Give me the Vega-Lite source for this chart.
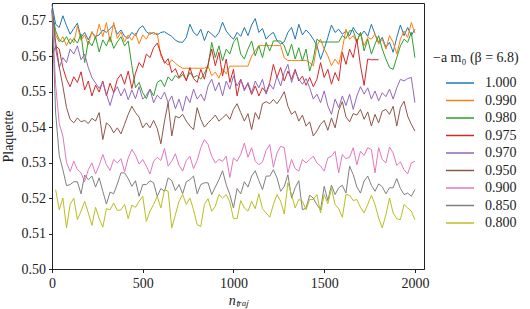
{
  "$schema": "https://vega.github.io/schema/vega-lite/v6.json",
  "width": 372,
  "height": 266,
  "autosize": {"type": "none"},
  "padding": {"left": 52, "top": 3, "right": 106, "bottom": 40},
  "background": "white",
  "config": {
    "font": "Liberation Serif",
    "view": {"stroke": "#222", "strokeWidth": 1},
    "axis": {"domainColor": "#222", "tickColor": "#222", "labelColor": "#222", "titleColor": "#222", "labelFontSize": 14, "titleFontSize": 14, "titleFontWeight": "normal", "grid": false, "tickSize": 3.5, "labelFont": "Liberation Serif", "titleFont": "Liberation Serif"},
    "legend": {"labelFont": "Liberation Serif", "titleFont": "Liberation Serif"}
  },
  "data": {"name": "traj"},
  "mark": {"type": "line", "strokeWidth": 1, "interpolate": "linear"},
  "encoding": {
    "x": {"field": "x", "type": "quantitative", "scale": {"domain": [0, 2050], "nice": false, "zero": false},
      "axis": {"values": [0, 500, 1000, 1500, 2000], "format": "d", "title": "nₜᵣₐⱼ", "titleFontStyle": "italic", "labelPadding": 4, "titlePadding": 3, "labelFlush": false}},
    "y": {"field": "y", "type": "quantitative", "scale": {"domain": [0.5, 0.575], "nice": false, "zero": false},
      "axis": {"values": [0.5, 0.51, 0.52, 0.53, 0.54, 0.55, 0.56, 0.57], "format": ".2f", "title": "Plaquette", "labelPadding": 3, "titlePadding": 6, "labelFlush": false}},
    "color": {"field": "s", "type": "nominal", "sort": null,
      "scale": {"domain": ["1.000", "0.990", "0.980", "0.975", "0.970", "0.950", "0.900", "0.850", "0.800"],
        "range": ["#1f77b4", "#ff7f0e", "#2ca02c", "#d62728", "#9467bd", "#8c564b", "#e377c2", "#7f7f7f", "#bcbd22"]},
      "legend": {"title": "−a m₀ (β = 6.8)", "orient": "none", "legendX": 381, "legendY": 48, "titleFontSize": 14, "titleFontWeight": "normal", "titleColor": "#222", "labelColor": "#222", "labelFontSize": 14, "symbolType": "M-2,0H2", "symbolSize": 196, "symbolStrokeWidth": 1.5, "symbolOffset": 19, "labelOffset": 17, "rowPadding": 2.5, "titlePadding": 10, "padding": 0}}
  },
  "datasets": {"traj": [
{"s":"1.000","x":0,"y":0.5745},{"s":"1.000","x":20,"y":0.5690},{"s":"1.000","x":40,"y":0.5681},{"s":"1.000","x":60,"y":0.5714},{"s":"1.000","x":80,"y":0.5686},{"s":"1.000","x":100,"y":0.5662},{"s":"1.000","x":120,"y":0.5678},{"s":"1.000","x":140,"y":0.5693},{"s":"1.000","x":160,"y":0.5653},{"s":"1.000","x":180,"y":0.5667},
{"s":"1.000","x":200,"y":0.5646},{"s":"1.000","x":220,"y":0.5667},{"s":"1.000","x":240,"y":0.5656},{"s":"1.000","x":260,"y":0.5660},{"s":"1.000","x":280,"y":0.5674},{"s":"1.000","x":300,"y":0.5667},{"s":"1.000","x":320,"y":0.5678},{"s":"1.000","x":340,"y":0.5688},{"s":"1.000","x":360,"y":0.5662},{"s":"1.000","x":380,"y":0.5674},
{"s":"1.000","x":400,"y":0.5656},{"s":"1.000","x":420,"y":0.5650},{"s":"1.000","x":440,"y":0.5667},{"s":"1.000","x":460,"y":0.5658},{"s":"1.000","x":480,"y":0.5678},{"s":"1.000","x":500,"y":0.5686},{"s":"1.000","x":520,"y":0.5669},{"s":"1.000","x":540,"y":0.5662},{"s":"1.000","x":560,"y":0.5667},{"s":"1.000","x":580,"y":0.5660},
{"s":"1.000","x":600,"y":0.5667},{"s":"1.000","x":620,"y":0.5669},{"s":"1.000","x":640,"y":0.5662},{"s":"1.000","x":660,"y":0.5656},{"s":"1.000","x":680,"y":0.5645},{"s":"1.000","x":700,"y":0.5640},{"s":"1.000","x":720,"y":0.5639},{"s":"1.000","x":740,"y":0.5653},{"s":"1.000","x":760,"y":0.5690},{"s":"1.000","x":780,"y":0.5667},
{"s":"1.000","x":800,"y":0.5658},{"s":"1.000","x":820,"y":0.5676},{"s":"1.000","x":840,"y":0.5644},{"s":"1.000","x":860,"y":0.5671},{"s":"1.000","x":880,"y":0.5662},{"s":"1.000","x":900,"y":0.5653},{"s":"1.000","x":920,"y":0.5667},{"s":"1.000","x":940,"y":0.5696},{"s":"1.000","x":960,"y":0.5671},{"s":"1.000","x":980,"y":0.5658},
{"s":"1.000","x":1000,"y":0.5648},{"s":"1.000","x":1020,"y":0.5667},{"s":"1.000","x":1040,"y":0.5656},{"s":"1.000","x":1060,"y":0.5681},{"s":"1.000","x":1080,"y":0.5658},{"s":"1.000","x":1100,"y":0.5688},{"s":"1.000","x":1120,"y":0.5706},{"s":"1.000","x":1140,"y":0.5667},{"s":"1.000","x":1160,"y":0.5678},{"s":"1.000","x":1180,"y":0.5648},
{"s":"1.000","x":1200,"y":0.5660},{"s":"1.000","x":1220,"y":0.5667},{"s":"1.000","x":1240,"y":0.5644},{"s":"1.000","x":1260,"y":0.5634},{"s":"1.000","x":1280,"y":0.5641},{"s":"1.000","x":1300,"y":0.5667},{"s":"1.000","x":1320,"y":0.5681},{"s":"1.000","x":1340,"y":0.5648},{"s":"1.000","x":1360,"y":0.5690},{"s":"1.000","x":1380,"y":0.5660},
{"s":"1.000","x":1400,"y":0.5674},{"s":"1.000","x":1420,"y":0.5663},{"s":"1.000","x":1440,"y":0.5648},{"s":"1.000","x":1460,"y":0.5630},{"s":"1.000","x":1480,"y":0.5591},{"s":"1.000","x":1500,"y":0.5620},{"s":"1.000","x":1520,"y":0.5653},{"s":"1.000","x":1540,"y":0.5688},{"s":"1.000","x":1560,"y":0.5667},{"s":"1.000","x":1580,"y":0.5676},
{"s":"1.000","x":1600,"y":0.5662},{"s":"1.000","x":1620,"y":0.5671},{"s":"1.000","x":1640,"y":0.5658},{"s":"1.000","x":1660,"y":0.5681},{"s":"1.000","x":1680,"y":0.5665},{"s":"1.000","x":1700,"y":0.5658},{"s":"1.000","x":1720,"y":0.5671},{"s":"1.000","x":1740,"y":0.5656},{"s":"1.000","x":1760,"y":0.5690},{"s":"1.000","x":1780,"y":0.5662},
{"s":"1.000","x":1800,"y":0.5639},{"s":"1.000","x":1820,"y":0.5653},{"s":"1.000","x":1840,"y":0.5625},{"s":"1.000","x":1860,"y":0.5639},{"s":"1.000","x":1880,"y":0.5611},{"s":"1.000","x":1900,"y":0.5653},{"s":"1.000","x":1920,"y":0.5688},{"s":"1.000","x":1940,"y":0.5658},{"s":"1.000","x":1960,"y":0.5681},{"s":"1.000","x":1980,"y":0.5658},{"s":"1.000","x":2000,"y":0.5676},
{"s":"0.990","x":0,"y":0.5725},{"s":"0.990","x":20,"y":0.5660},{"s":"0.990","x":40,"y":0.5640},{"s":"0.990","x":60,"y":0.5655},{"s":"0.990","x":80,"y":0.5630},{"s":"0.990","x":100,"y":0.5650},{"s":"0.990","x":120,"y":0.5638},{"s":"0.990","x":140,"y":0.5685},{"s":"0.990","x":160,"y":0.5645},{"s":"0.990","x":180,"y":0.5660},
{"s":"0.990","x":200,"y":0.5632},{"s":"0.990","x":220,"y":0.5670},{"s":"0.990","x":240,"y":0.5648},{"s":"0.990","x":260,"y":0.5690},{"s":"0.990","x":280,"y":0.5655},{"s":"0.990","x":300,"y":0.5695},{"s":"0.990","x":320,"y":0.5640},{"s":"0.990","x":340,"y":0.5695},{"s":"0.990","x":360,"y":0.5650},{"s":"0.990","x":380,"y":0.5668},
{"s":"0.990","x":400,"y":0.5640},{"s":"0.990","x":420,"y":0.5660},{"s":"0.990","x":440,"y":0.5645},{"s":"0.990","x":460,"y":0.5665},{"s":"0.990","x":480,"y":0.5635},{"s":"0.990","x":500,"y":0.5660},{"s":"0.990","x":520,"y":0.5648},{"s":"0.990","x":540,"y":0.5668},{"s":"0.990","x":560,"y":0.5662},{"s":"0.990","x":580,"y":0.5665},
{"s":"0.990","x":600,"y":0.5600},{"s":"0.990","x":620,"y":0.5585},{"s":"0.990","x":640,"y":0.5575},{"s":"0.990","x":660,"y":0.5590},{"s":"0.990","x":680,"y":0.5580},{"s":"0.990","x":700,"y":0.5572},{"s":"0.990","x":720,"y":0.5566},{"s":"0.990","x":740,"y":0.5566},{"s":"0.990","x":760,"y":0.5566},{"s":"0.990","x":780,"y":0.5566},
{"s":"0.990","x":800,"y":0.5566},{"s":"0.990","x":820,"y":0.5566},{"s":"0.990","x":840,"y":0.5566},{"s":"0.990","x":860,"y":0.5572},{"s":"0.990","x":880,"y":0.5545},{"s":"0.990","x":900,"y":0.5555},{"s":"0.990","x":920,"y":0.5538},{"s":"0.990","x":940,"y":0.5565},{"s":"0.990","x":960,"y":0.5550},{"s":"0.990","x":980,"y":0.5572},
{"s":"0.990","x":1000,"y":0.5572},{"s":"0.990","x":1020,"y":0.5572},{"s":"0.990","x":1040,"y":0.5572},{"s":"0.990","x":1060,"y":0.5572},{"s":"0.990","x":1080,"y":0.5572},{"s":"0.990","x":1100,"y":0.5600},{"s":"0.990","x":1120,"y":0.5615},{"s":"0.990","x":1140,"y":0.5630},{"s":"0.990","x":1160,"y":0.5630},{"s":"0.990","x":1180,"y":0.5630},
{"s":"0.990","x":1200,"y":0.5630},{"s":"0.990","x":1220,"y":0.5630},{"s":"0.990","x":1240,"y":0.5630},{"s":"0.990","x":1260,"y":0.5630},{"s":"0.990","x":1280,"y":0.5595},{"s":"0.990","x":1300,"y":0.5588},{"s":"0.990","x":1320,"y":0.5588},{"s":"0.990","x":1340,"y":0.5588},{"s":"0.990","x":1360,"y":0.5588},{"s":"0.990","x":1380,"y":0.5588},
{"s":"0.990","x":1400,"y":0.5588},{"s":"0.990","x":1420,"y":0.5582},{"s":"0.990","x":1440,"y":0.5573},{"s":"0.990","x":1460,"y":0.5629},{"s":"0.990","x":1480,"y":0.5648},{"s":"0.990","x":1500,"y":0.5620},{"s":"0.990","x":1520,"y":0.5601},{"s":"0.990","x":1540,"y":0.5573},{"s":"0.990","x":1560,"y":0.5592},{"s":"0.990","x":1580,"y":0.5577},
{"s":"0.990","x":1600,"y":0.5620},{"s":"0.990","x":1620,"y":0.5676},{"s":"0.990","x":1640,"y":0.5648},{"s":"0.990","x":1660,"y":0.5658},{"s":"0.990","x":1680,"y":0.5639},{"s":"0.990","x":1700,"y":0.5667},{"s":"0.990","x":1720,"y":0.5629},{"s":"0.990","x":1740,"y":0.5653},{"s":"0.990","x":1760,"y":0.5648},{"s":"0.990","x":1780,"y":0.5662},
{"s":"0.990","x":1800,"y":0.5634},{"s":"0.990","x":1820,"y":0.5648},{"s":"0.990","x":1840,"y":0.5620},{"s":"0.990","x":1860,"y":0.5658},{"s":"0.990","x":1880,"y":0.5639},{"s":"0.990","x":1900,"y":0.5606},{"s":"0.990","x":1920,"y":0.5648},{"s":"0.990","x":1940,"y":0.5671},{"s":"0.990","x":1960,"y":0.5653},{"s":"0.990","x":1980,"y":0.5695},{"s":"0.990","x":2000,"y":0.5665},
{"s":"0.980","x":0,"y":0.5730},{"s":"0.980","x":20,"y":0.5672},{"s":"0.980","x":40,"y":0.5646},{"s":"0.980","x":60,"y":0.5640},{"s":"0.980","x":80,"y":0.5655},{"s":"0.980","x":100,"y":0.5634},{"s":"0.980","x":120,"y":0.5650},{"s":"0.980","x":140,"y":0.5637},{"s":"0.980","x":160,"y":0.5662},{"s":"0.980","x":180,"y":0.5582},
{"s":"0.980","x":200,"y":0.5643},{"s":"0.980","x":220,"y":0.5629},{"s":"0.980","x":240,"y":0.5655},{"s":"0.980","x":260,"y":0.5612},{"s":"0.980","x":280,"y":0.5646},{"s":"0.980","x":300,"y":0.5629},{"s":"0.980","x":320,"y":0.5655},{"s":"0.980","x":340,"y":0.5622},{"s":"0.980","x":360,"y":0.5640},{"s":"0.980","x":380,"y":0.5655},
{"s":"0.980","x":400,"y":0.5629},{"s":"0.980","x":420,"y":0.5643},{"s":"0.980","x":440,"y":0.5573},{"s":"0.980","x":460,"y":0.5511},{"s":"0.980","x":480,"y":0.5526},{"s":"0.980","x":500,"y":0.5497},{"s":"0.980","x":520,"y":0.5480},{"s":"0.980","x":540,"y":0.5507},{"s":"0.980","x":560,"y":0.5488},{"s":"0.980","x":580,"y":0.5526},
{"s":"0.980","x":600,"y":0.5533},{"s":"0.980","x":620,"y":0.5514},{"s":"0.980","x":640,"y":0.5542},{"s":"0.980","x":660,"y":0.5530},{"s":"0.980","x":680,"y":0.5546},{"s":"0.980","x":700,"y":0.5537},{"s":"0.980","x":720,"y":0.5549},{"s":"0.980","x":740,"y":0.5533},{"s":"0.980","x":760,"y":0.5554},{"s":"0.980","x":780,"y":0.5540},
{"s":"0.980","x":800,"y":0.5546},{"s":"0.980","x":820,"y":0.5535},{"s":"0.980","x":840,"y":0.5552},{"s":"0.980","x":860,"y":0.5573},{"s":"0.980","x":880,"y":0.5639},{"s":"0.980","x":900,"y":0.5596},{"s":"0.980","x":920,"y":0.5629},{"s":"0.980","x":940,"y":0.5587},{"s":"0.980","x":960,"y":0.5620},{"s":"0.980","x":980,"y":0.5606},
{"s":"0.980","x":1000,"y":0.5639},{"s":"0.980","x":1020,"y":0.5653},{"s":"0.980","x":1040,"y":0.5606},{"s":"0.980","x":1060,"y":0.5592},{"s":"0.980","x":1080,"y":0.5620},{"s":"0.980","x":1100,"y":0.5643},{"s":"0.980","x":1120,"y":0.5601},{"s":"0.980","x":1140,"y":0.5629},{"s":"0.980","x":1160,"y":0.5596},{"s":"0.980","x":1180,"y":0.5639},
{"s":"0.980","x":1200,"y":0.5615},{"s":"0.980","x":1220,"y":0.5643},{"s":"0.980","x":1240,"y":0.5643},{"s":"0.980","x":1260,"y":0.5643},{"s":"0.980","x":1280,"y":0.5629},{"s":"0.980","x":1300,"y":0.5601},{"s":"0.980","x":1320,"y":0.5634},{"s":"0.980","x":1340,"y":0.5592},{"s":"0.980","x":1360,"y":0.5624},{"s":"0.980","x":1380,"y":0.5587},
{"s":"0.980","x":1400,"y":0.5620},{"s":"0.980","x":1420,"y":0.5558},{"s":"0.980","x":1440,"y":0.5592},{"s":"0.980","x":1460,"y":0.5648},{"s":"0.980","x":1480,"y":0.5640},{"s":"0.980","x":1500,"y":0.5640},{"s":"0.980","x":1520,"y":0.5640},{"s":"0.980","x":1540,"y":0.5640},{"s":"0.980","x":1560,"y":0.5640},{"s":"0.980","x":1580,"y":0.5640},
{"s":"0.980","x":1600,"y":0.5658},{"s":"0.980","x":1620,"y":0.5650},{"s":"0.980","x":1640,"y":0.5672},{"s":"0.980","x":1660,"y":0.5672},{"s":"0.980","x":1680,"y":0.5640},{"s":"0.980","x":1700,"y":0.5667},{"s":"0.980","x":1720,"y":0.5615},{"s":"0.980","x":1740,"y":0.5648},{"s":"0.980","x":1760,"y":0.5606},{"s":"0.980","x":1780,"y":0.5634},
{"s":"0.980","x":1800,"y":0.5658},{"s":"0.980","x":1820,"y":0.5620},{"s":"0.980","x":1840,"y":0.5592},{"s":"0.980","x":1860,"y":0.5568},{"s":"0.980","x":1880,"y":0.5563},{"s":"0.980","x":1900,"y":0.5596},{"s":"0.980","x":1920,"y":0.5629},{"s":"0.980","x":1940,"y":0.5648},{"s":"0.980","x":1960,"y":0.5639},{"s":"0.980","x":1980,"y":0.5667},{"s":"0.980","x":2000,"y":0.5596},
{"s":"0.975","x":0,"y":0.5600},{"s":"0.975","x":20,"y":0.5629},{"s":"0.975","x":40,"y":0.5620},{"s":"0.975","x":60,"y":0.5568},{"s":"0.975","x":80,"y":0.5535},{"s":"0.975","x":100,"y":0.5514},{"s":"0.975","x":120,"y":0.5542},{"s":"0.975","x":140,"y":0.5526},{"s":"0.975","x":160,"y":0.5556},{"s":"0.975","x":180,"y":0.5505},
{"s":"0.975","x":200,"y":0.5530},{"s":"0.975","x":220,"y":0.5488},{"s":"0.975","x":240,"y":0.5518},{"s":"0.975","x":260,"y":0.5499},{"s":"0.975","x":280,"y":0.5530},{"s":"0.975","x":300,"y":0.5488},{"s":"0.975","x":320,"y":0.5524},{"s":"0.975","x":340,"y":0.5497},{"s":"0.975","x":360,"y":0.5535},{"s":"0.975","x":380,"y":0.5549},
{"s":"0.975","x":400,"y":0.5521},{"s":"0.975","x":420,"y":0.5558},{"s":"0.975","x":440,"y":0.5509},{"s":"0.975","x":460,"y":0.5552},{"s":"0.975","x":480,"y":0.5582},{"s":"0.975","x":500,"y":0.5568},{"s":"0.975","x":520,"y":0.5606},{"s":"0.975","x":540,"y":0.5596},{"s":"0.975","x":560,"y":0.5624},{"s":"0.975","x":580,"y":0.5637},
{"s":"0.975","x":600,"y":0.5608},{"s":"0.975","x":620,"y":0.5580},{"s":"0.975","x":640,"y":0.5593},{"s":"0.975","x":660,"y":0.5554},{"s":"0.975","x":680,"y":0.5565},{"s":"0.975","x":700,"y":0.5540},{"s":"0.975","x":720,"y":0.5558},{"s":"0.975","x":740,"y":0.5530},{"s":"0.975","x":760,"y":0.5568},{"s":"0.975","x":780,"y":0.5537},
{"s":"0.975","x":800,"y":0.5526},{"s":"0.975","x":820,"y":0.5563},{"s":"0.975","x":840,"y":0.5535},{"s":"0.975","x":860,"y":0.5577},{"s":"0.975","x":880,"y":0.5620},{"s":"0.975","x":900,"y":0.5573},{"s":"0.975","x":920,"y":0.5611},{"s":"0.975","x":940,"y":0.5544},{"s":"0.975","x":960,"y":0.5592},{"s":"0.975","x":980,"y":0.5526},
{"s":"0.975","x":1000,"y":0.5563},{"s":"0.975","x":1020,"y":0.5488},{"s":"0.975","x":1040,"y":0.5535},{"s":"0.975","x":1060,"y":0.5507},{"s":"0.975","x":1080,"y":0.5521},{"s":"0.975","x":1100,"y":0.5492},{"s":"0.975","x":1120,"y":0.5516},{"s":"0.975","x":1140,"y":0.5488},{"s":"0.975","x":1160,"y":0.5511},{"s":"0.975","x":1180,"y":0.5497},
{"s":"0.975","x":1200,"y":0.5526},{"s":"0.975","x":1220,"y":0.5577},{"s":"0.975","x":1240,"y":0.5540},{"s":"0.975","x":1260,"y":0.5568},{"s":"0.975","x":1280,"y":0.5530},{"s":"0.975","x":1300,"y":0.5558},{"s":"0.975","x":1320,"y":0.5535},{"s":"0.975","x":1340,"y":0.5563},{"s":"0.975","x":1360,"y":0.5530},{"s":"0.975","x":1380,"y":0.5544},
{"s":"0.975","x":1400,"y":0.5518},{"s":"0.975","x":1420,"y":0.5540},{"s":"0.975","x":1440,"y":0.5514},{"s":"0.975","x":1460,"y":0.5535},{"s":"0.975","x":1480,"y":0.5582},{"s":"0.975","x":1500,"y":0.5540},{"s":"0.975","x":1520,"y":0.5563},{"s":"0.975","x":1540,"y":0.5521},{"s":"0.975","x":1560,"y":0.5554},{"s":"0.975","x":1580,"y":0.5530},
{"s":"0.975","x":1600,"y":0.5611},{"s":"0.975","x":1620,"y":0.5577},{"s":"0.975","x":1640,"y":0.5620},{"s":"0.975","x":1660,"y":0.5596},{"s":"0.975","x":1680,"y":0.5648},{"s":"0.975","x":1700,"y":0.5573},{"s":"0.975","x":1720,"y":0.5518},{"s":"0.975","x":1740,"y":0.5592},{"s":"0.975","x":1760,"y":0.5590},{"s":"0.975","x":1780,"y":0.5590},{"s":"0.975","x":1800,"y":0.5590},
{"s":"0.970","x":0,"y":0.5730},{"s":"0.970","x":20,"y":0.5620},{"s":"0.970","x":40,"y":0.5568},{"s":"0.970","x":60,"y":0.5596},{"s":"0.970","x":80,"y":0.5582},{"s":"0.970","x":100,"y":0.5620},{"s":"0.970","x":120,"y":0.5606},{"s":"0.970","x":140,"y":0.5629},{"s":"0.970","x":160,"y":0.5590},{"s":"0.970","x":180,"y":0.5606},
{"s":"0.970","x":200,"y":0.5568},{"s":"0.970","x":220,"y":0.5540},{"s":"0.970","x":240,"y":0.5524},{"s":"0.970","x":260,"y":0.5509},{"s":"0.970","x":280,"y":0.5526},{"s":"0.970","x":300,"y":0.5493},{"s":"0.970","x":320,"y":0.5461},{"s":"0.970","x":340,"y":0.5497},{"s":"0.970","x":360,"y":0.5514},{"s":"0.970","x":380,"y":0.5488},
{"s":"0.970","x":400,"y":0.5509},{"s":"0.970","x":420,"y":0.5477},{"s":"0.970","x":440,"y":0.5505},{"s":"0.970","x":460,"y":0.5480},{"s":"0.970","x":480,"y":0.5514},{"s":"0.970","x":500,"y":0.5479},{"s":"0.970","x":520,"y":0.5490},{"s":"0.970","x":540,"y":0.5507},{"s":"0.970","x":560,"y":0.5469},{"s":"0.970","x":580,"y":0.5490},
{"s":"0.970","x":600,"y":0.5479},{"s":"0.970","x":620,"y":0.5499},{"s":"0.970","x":640,"y":0.5469},{"s":"0.970","x":660,"y":0.5488},{"s":"0.970","x":680,"y":0.5452},{"s":"0.970","x":700,"y":0.5479},{"s":"0.970","x":720,"y":0.5445},{"s":"0.970","x":740,"y":0.5488},{"s":"0.970","x":760,"y":0.5469},{"s":"0.970","x":780,"y":0.5507},
{"s":"0.970","x":800,"y":0.5479},{"s":"0.970","x":820,"y":0.5493},{"s":"0.970","x":840,"y":0.5474},{"s":"0.970","x":860,"y":0.5516},{"s":"0.970","x":880,"y":0.5535},{"s":"0.970","x":900,"y":0.5502},{"s":"0.970","x":920,"y":0.5526},{"s":"0.970","x":940,"y":0.5488},{"s":"0.970","x":960,"y":0.5530},{"s":"0.970","x":980,"y":0.5507},
{"s":"0.970","x":1000,"y":0.5544},{"s":"0.970","x":1020,"y":0.5516},{"s":"0.970","x":1040,"y":0.5535},{"s":"0.970","x":1060,"y":0.5502},{"s":"0.970","x":1080,"y":0.5526},{"s":"0.970","x":1100,"y":0.5497},{"s":"0.970","x":1120,"y":0.5530},{"s":"0.970","x":1140,"y":0.5511},{"s":"0.970","x":1160,"y":0.5535},{"s":"0.970","x":1180,"y":0.5493},
{"s":"0.970","x":1200,"y":0.5521},{"s":"0.970","x":1220,"y":0.5507},{"s":"0.970","x":1240,"y":0.5544},{"s":"0.970","x":1260,"y":0.5516},{"s":"0.970","x":1280,"y":0.5554},{"s":"0.970","x":1300,"y":0.5577},{"s":"0.970","x":1320,"y":0.5526},{"s":"0.970","x":1340,"y":0.5558},{"s":"0.970","x":1360,"y":0.5535},{"s":"0.970","x":1380,"y":0.5521},
{"s":"0.970","x":1400,"y":0.5537},{"s":"0.970","x":1420,"y":0.5511},{"s":"0.970","x":1440,"y":0.5479},{"s":"0.970","x":1460,"y":0.5493},{"s":"0.970","x":1480,"y":0.5469},{"s":"0.970","x":1500,"y":0.5502},{"s":"0.970","x":1520,"y":0.5460},{"s":"0.970","x":1540,"y":0.5436},{"s":"0.970","x":1560,"y":0.5479},{"s":"0.970","x":1580,"y":0.5455},
{"s":"0.970","x":1600,"y":0.5488},{"s":"0.970","x":1620,"y":0.5461},{"s":"0.970","x":1640,"y":0.5493},{"s":"0.970","x":1660,"y":0.5450},{"s":"0.970","x":1680,"y":0.5488},{"s":"0.970","x":1700,"y":0.5514},{"s":"0.970","x":1720,"y":0.5493},{"s":"0.970","x":1740,"y":0.5511},{"s":"0.970","x":1760,"y":0.5479},{"s":"0.970","x":1780,"y":0.5502},
{"s":"0.970","x":1800,"y":0.5474},{"s":"0.970","x":1820,"y":0.5497},{"s":"0.970","x":1840,"y":0.5486},{"s":"0.970","x":1860,"y":0.5507},{"s":"0.970","x":1880,"y":0.5479},{"s":"0.970","x":1900,"y":0.5511},{"s":"0.970","x":1920,"y":0.5535},{"s":"0.970","x":1940,"y":0.5530},{"s":"0.970","x":1960,"y":0.5537},{"s":"0.970","x":1980,"y":0.5540},{"s":"0.970","x":2000,"y":0.5469},
{"s":"0.950","x":0,"y":0.5735},{"s":"0.950","x":20,"y":0.5640},{"s":"0.950","x":40,"y":0.5570},{"s":"0.950","x":60,"y":0.5515},{"s":"0.950","x":80,"y":0.5455},{"s":"0.950","x":100,"y":0.5422},{"s":"0.950","x":120,"y":0.5412},{"s":"0.950","x":140,"y":0.5426},{"s":"0.950","x":160,"y":0.5415},{"s":"0.950","x":180,"y":0.5419},
{"s":"0.950","x":200,"y":0.5410},{"s":"0.950","x":220,"y":0.5425},{"s":"0.950","x":240,"y":0.5417},{"s":"0.950","x":260,"y":0.5441},{"s":"0.950","x":280,"y":0.5365},{"s":"0.950","x":300,"y":0.5412},{"s":"0.950","x":320,"y":0.5403},{"s":"0.950","x":340,"y":0.5384},{"s":"0.950","x":360,"y":0.5398},{"s":"0.950","x":380,"y":0.5381},
{"s":"0.950","x":400,"y":0.5408},{"s":"0.950","x":420,"y":0.5436},{"s":"0.950","x":440,"y":0.5459},{"s":"0.950","x":460,"y":0.5441},{"s":"0.950","x":480,"y":0.5428},{"s":"0.950","x":500,"y":0.5398},{"s":"0.950","x":520,"y":0.5412},{"s":"0.950","x":540,"y":0.5398},{"s":"0.950","x":560,"y":0.5419},{"s":"0.950","x":580,"y":0.5396},
{"s":"0.950","x":600,"y":0.5353},{"s":"0.950","x":620,"y":0.5417},{"s":"0.950","x":640,"y":0.5469},{"s":"0.950","x":660,"y":0.5375},{"s":"0.950","x":680,"y":0.5431},{"s":"0.950","x":700,"y":0.5426},{"s":"0.950","x":720,"y":0.5436},{"s":"0.950","x":740,"y":0.5417},{"s":"0.950","x":760,"y":0.5403},{"s":"0.950","x":780,"y":0.5393},
{"s":"0.950","x":800,"y":0.5455},{"s":"0.950","x":820,"y":0.5422},{"s":"0.950","x":840,"y":0.5400},{"s":"0.950","x":860,"y":0.5412},{"s":"0.950","x":880,"y":0.5422},{"s":"0.950","x":900,"y":0.5434},{"s":"0.950","x":920,"y":0.5417},{"s":"0.950","x":940,"y":0.5426},{"s":"0.950","x":960,"y":0.5436},{"s":"0.950","x":980,"y":0.5422},
{"s":"0.950","x":1000,"y":0.5450},{"s":"0.950","x":1020,"y":0.5466},{"s":"0.950","x":1040,"y":0.5441},{"s":"0.950","x":1060,"y":0.5417},{"s":"0.950","x":1080,"y":0.5438},{"s":"0.950","x":1100,"y":0.5393},{"s":"0.950","x":1120,"y":0.5441},{"s":"0.950","x":1140,"y":0.5422},{"s":"0.950","x":1160,"y":0.5466},{"s":"0.950","x":1180,"y":0.5472},
{"s":"0.950","x":1200,"y":0.5466},{"s":"0.950","x":1220,"y":0.5478},{"s":"0.950","x":1240,"y":0.5466},{"s":"0.950","x":1260,"y":0.5481},{"s":"0.950","x":1280,"y":0.5500},{"s":"0.950","x":1300,"y":0.5459},{"s":"0.950","x":1320,"y":0.5436},{"s":"0.950","x":1340,"y":0.5445},{"s":"0.950","x":1360,"y":0.5417},{"s":"0.950","x":1380,"y":0.5434},
{"s":"0.950","x":1400,"y":0.5403},{"s":"0.950","x":1420,"y":0.5415},{"s":"0.950","x":1440,"y":0.5375},{"s":"0.950","x":1460,"y":0.5389},{"s":"0.950","x":1480,"y":0.5408},{"s":"0.950","x":1500,"y":0.5419},{"s":"0.950","x":1520,"y":0.5391},{"s":"0.950","x":1540,"y":0.5426},{"s":"0.950","x":1560,"y":0.5398},{"s":"0.950","x":1580,"y":0.5447},
{"s":"0.950","x":1600,"y":0.5472},{"s":"0.950","x":1620,"y":0.5429},{"s":"0.950","x":1640,"y":0.5415},{"s":"0.950","x":1660,"y":0.5438},{"s":"0.950","x":1680,"y":0.5434},{"s":"0.950","x":1700,"y":0.5450},{"s":"0.950","x":1720,"y":0.5422},{"s":"0.950","x":1740,"y":0.5443},{"s":"0.950","x":1760,"y":0.5403},{"s":"0.950","x":1780,"y":0.5436},
{"s":"0.950","x":1800,"y":0.5412},{"s":"0.950","x":1820,"y":0.5445},{"s":"0.950","x":1840,"y":0.5450},{"s":"0.950","x":1860,"y":0.5436},{"s":"0.950","x":1880,"y":0.5459},{"s":"0.950","x":1900,"y":0.5403},{"s":"0.950","x":1920,"y":0.5455},{"s":"0.950","x":1940,"y":0.5473},{"s":"0.950","x":1960,"y":0.5431},{"s":"0.950","x":1980,"y":0.5408},{"s":"0.950","x":2000,"y":0.5389},
{"s":"0.900","x":0,"y":0.5730},{"s":"0.900","x":20,"y":0.5520},{"s":"0.900","x":40,"y":0.5410},{"s":"0.900","x":60,"y":0.5375},{"s":"0.900","x":80,"y":0.5300},{"s":"0.900","x":100,"y":0.5275},{"s":"0.900","x":120,"y":0.5304},{"s":"0.900","x":140,"y":0.5280},{"s":"0.900","x":160,"y":0.5271},{"s":"0.900","x":180,"y":0.5246},
{"s":"0.900","x":200,"y":0.5280},{"s":"0.900","x":220,"y":0.5299},{"s":"0.900","x":240,"y":0.5268},{"s":"0.900","x":260,"y":0.5292},{"s":"0.900","x":280,"y":0.5323},{"s":"0.900","x":300,"y":0.5294},{"s":"0.900","x":320,"y":0.5278},{"s":"0.900","x":340,"y":0.5309},{"s":"0.900","x":360,"y":0.5299},{"s":"0.900","x":380,"y":0.5311},
{"s":"0.900","x":400,"y":0.5274},{"s":"0.900","x":420,"y":0.5313},{"s":"0.900","x":440,"y":0.5337},{"s":"0.900","x":460,"y":0.5321},{"s":"0.900","x":480,"y":0.5296},{"s":"0.900","x":500,"y":0.5309},{"s":"0.900","x":520,"y":0.5290},{"s":"0.900","x":540,"y":0.5268},{"s":"0.900","x":560,"y":0.5304},{"s":"0.900","x":580,"y":0.5315},
{"s":"0.900","x":600,"y":0.5306},{"s":"0.900","x":620,"y":0.5340},{"s":"0.900","x":640,"y":0.5290},{"s":"0.900","x":660,"y":0.5304},{"s":"0.900","x":680,"y":0.5325},{"s":"0.900","x":700,"y":0.5292},{"s":"0.900","x":720,"y":0.5276},{"s":"0.900","x":740,"y":0.5306},{"s":"0.900","x":760,"y":0.5318},{"s":"0.900","x":780,"y":0.5283},
{"s":"0.900","x":800,"y":0.5306},{"s":"0.900","x":820,"y":0.5342},{"s":"0.900","x":840,"y":0.5365},{"s":"0.900","x":860,"y":0.5351},{"s":"0.900","x":880,"y":0.5318},{"s":"0.900","x":900,"y":0.5299},{"s":"0.900","x":920,"y":0.5309},{"s":"0.900","x":940,"y":0.5304},{"s":"0.900","x":960,"y":0.5318},{"s":"0.900","x":980,"y":0.5258},
{"s":"0.900","x":1000,"y":0.5313},{"s":"0.900","x":1020,"y":0.5304},{"s":"0.900","x":1040,"y":0.5323},{"s":"0.900","x":1060,"y":0.5355},{"s":"0.900","x":1080,"y":0.5315},{"s":"0.900","x":1100,"y":0.5342},{"s":"0.900","x":1120,"y":0.5304},{"s":"0.900","x":1140,"y":0.5294},{"s":"0.900","x":1160,"y":0.5302},{"s":"0.900","x":1180,"y":0.5334},
{"s":"0.900","x":1200,"y":0.5351},{"s":"0.900","x":1220,"y":0.5287},{"s":"0.900","x":1240,"y":0.5327},{"s":"0.900","x":1260,"y":0.5346},{"s":"0.900","x":1280,"y":0.5342},{"s":"0.900","x":1300,"y":0.5271},{"s":"0.900","x":1320,"y":0.5309},{"s":"0.900","x":1340,"y":0.5283},{"s":"0.900","x":1360,"y":0.5276},{"s":"0.900","x":1380,"y":0.5309},
{"s":"0.900","x":1400,"y":0.5299},{"s":"0.900","x":1420,"y":0.5309},{"s":"0.900","x":1440,"y":0.5318},{"s":"0.900","x":1460,"y":0.5299},{"s":"0.900","x":1480,"y":0.5290},{"s":"0.900","x":1500,"y":0.5276},{"s":"0.900","x":1520,"y":0.5313},{"s":"0.900","x":1540,"y":0.5318},{"s":"0.900","x":1560,"y":0.5332},{"s":"0.900","x":1580,"y":0.5271},
{"s":"0.900","x":1600,"y":0.5323},{"s":"0.900","x":1620,"y":0.5311},{"s":"0.900","x":1640,"y":0.5315},{"s":"0.900","x":1660,"y":0.5342},{"s":"0.900","x":1680,"y":0.5294},{"s":"0.900","x":1700,"y":0.5332},{"s":"0.900","x":1720,"y":0.5320},{"s":"0.900","x":1740,"y":0.5342},{"s":"0.900","x":1760,"y":0.5337},{"s":"0.900","x":1780,"y":0.5271},
{"s":"0.900","x":1800,"y":0.5342},{"s":"0.900","x":1820,"y":0.5309},{"s":"0.900","x":1840,"y":0.5299},{"s":"0.900","x":1860,"y":0.5344},{"s":"0.900","x":1880,"y":0.5327},{"s":"0.900","x":1900,"y":0.5292},{"s":"0.900","x":1920,"y":0.5302},{"s":"0.900","x":1940,"y":0.5280},{"s":"0.900","x":1960,"y":0.5268},{"s":"0.900","x":1980,"y":0.5299},{"s":"0.900","x":2000,"y":0.5304},
{"s":"0.850","x":0,"y":0.5730},{"s":"0.850","x":20,"y":0.5440},{"s":"0.850","x":40,"y":0.5320},{"s":"0.850","x":60,"y":0.5280},{"s":"0.850","x":80,"y":0.5235},{"s":"0.850","x":100,"y":0.5238},{"s":"0.850","x":120,"y":0.5246},{"s":"0.850","x":140,"y":0.5246},{"s":"0.850","x":160,"y":0.5212},{"s":"0.850","x":180,"y":0.5265},
{"s":"0.850","x":200,"y":0.5252},{"s":"0.850","x":220,"y":0.5262},{"s":"0.850","x":240,"y":0.5231},{"s":"0.850","x":260,"y":0.5257},{"s":"0.850","x":280,"y":0.5219},{"s":"0.850","x":300,"y":0.5183},{"s":"0.850","x":320,"y":0.5217},{"s":"0.850","x":340,"y":0.5212},{"s":"0.850","x":360,"y":0.5240},{"s":"0.850","x":380,"y":0.5271},
{"s":"0.850","x":400,"y":0.5271},{"s":"0.850","x":420,"y":0.5255},{"s":"0.850","x":440,"y":0.5233},{"s":"0.850","x":460,"y":0.5249},{"s":"0.850","x":480,"y":0.5205},{"s":"0.850","x":500,"y":0.5238},{"s":"0.850","x":520,"y":0.5238},{"s":"0.850","x":540,"y":0.5249},{"s":"0.850","x":560,"y":0.5243},{"s":"0.850","x":580,"y":0.5205},
{"s":"0.850","x":600,"y":0.5227},{"s":"0.850","x":620,"y":0.5219},{"s":"0.850","x":640,"y":0.5257},{"s":"0.850","x":660,"y":0.5249},{"s":"0.850","x":680,"y":0.5221},{"s":"0.850","x":700,"y":0.5238},{"s":"0.850","x":720,"y":0.5212},{"s":"0.850","x":740,"y":0.5246},{"s":"0.850","x":760,"y":0.5252},{"s":"0.850","x":780,"y":0.5262},
{"s":"0.850","x":800,"y":0.5212},{"s":"0.850","x":820,"y":0.5238},{"s":"0.850","x":840,"y":0.5243},{"s":"0.850","x":860,"y":0.5243},{"s":"0.850","x":880,"y":0.5210},{"s":"0.850","x":900,"y":0.5231},{"s":"0.850","x":920,"y":0.5252},{"s":"0.850","x":940,"y":0.5277},{"s":"0.850","x":960,"y":0.5238},{"s":"0.850","x":980,"y":0.5210},
{"s":"0.850","x":1000,"y":0.5172},{"s":"0.850","x":1020,"y":0.5227},{"s":"0.850","x":1040,"y":0.5212},{"s":"0.850","x":1060,"y":0.5246},{"s":"0.850","x":1080,"y":0.5231},{"s":"0.850","x":1100,"y":0.5262},{"s":"0.850","x":1120,"y":0.5277},{"s":"0.850","x":1140,"y":0.5249},{"s":"0.850","x":1160,"y":0.5224},{"s":"0.850","x":1180,"y":0.5262},
{"s":"0.850","x":1200,"y":0.5262},{"s":"0.850","x":1220,"y":0.5280},{"s":"0.850","x":1240,"y":0.5257},{"s":"0.850","x":1260,"y":0.5219},{"s":"0.850","x":1280,"y":0.5233},{"s":"0.850","x":1300,"y":0.5266},{"s":"0.850","x":1320,"y":0.5200},{"s":"0.850","x":1340,"y":0.5229},{"s":"0.850","x":1360,"y":0.5249},{"s":"0.850","x":1380,"y":0.5167},
{"s":"0.850","x":1400,"y":0.5172},{"s":"0.850","x":1420,"y":0.5208},{"s":"0.850","x":1440,"y":0.5200},{"s":"0.850","x":1460,"y":0.5181},{"s":"0.850","x":1480,"y":0.5167},{"s":"0.850","x":1500,"y":0.5233},{"s":"0.850","x":1520,"y":0.5193},{"s":"0.850","x":1540,"y":0.5236},{"s":"0.850","x":1560,"y":0.5210},{"s":"0.850","x":1580,"y":0.5229},
{"s":"0.850","x":1600,"y":0.5236},{"s":"0.850","x":1620,"y":0.5214},{"s":"0.850","x":1640,"y":0.5290},{"s":"0.850","x":1660,"y":0.5266},{"s":"0.850","x":1680,"y":0.5231},{"s":"0.850","x":1700,"y":0.5214},{"s":"0.850","x":1720,"y":0.5248},{"s":"0.850","x":1740,"y":0.5262},{"s":"0.850","x":1760,"y":0.5236},{"s":"0.850","x":1780,"y":0.5219},
{"s":"0.850","x":1800,"y":0.5240},{"s":"0.850","x":1820,"y":0.5232},{"s":"0.850","x":1840,"y":0.5212},{"s":"0.850","x":1860,"y":0.5229},{"s":"0.850","x":1880,"y":0.5229},{"s":"0.850","x":1900,"y":0.5255},{"s":"0.850","x":1920,"y":0.5227},{"s":"0.850","x":1940,"y":0.5210},{"s":"0.850","x":1960,"y":0.5214},{"s":"0.850","x":1980,"y":0.5205},{"s":"0.850","x":2000,"y":0.5224},
{"s":"0.800","x":20,"y":0.5224},{"s":"0.800","x":40,"y":0.5167},{"s":"0.800","x":60,"y":0.5200},{"s":"0.800","x":80,"y":0.5116},{"s":"0.800","x":100,"y":0.5182},{"s":"0.800","x":120,"y":0.5200},{"s":"0.800","x":140,"y":0.5139},{"s":"0.800","x":160,"y":0.5163},{"s":"0.800","x":180,"y":0.5191},
{"s":"0.800","x":200,"y":0.5158},{"s":"0.800","x":220,"y":0.5123},{"s":"0.800","x":240,"y":0.5174},{"s":"0.800","x":260,"y":0.5142},{"s":"0.800","x":280,"y":0.5118},{"s":"0.800","x":300,"y":0.5170},{"s":"0.800","x":320,"y":0.5167},{"s":"0.800","x":340,"y":0.5186},{"s":"0.800","x":360,"y":0.5165},{"s":"0.800","x":380,"y":0.5167},
{"s":"0.800","x":400,"y":0.5182},{"s":"0.800","x":420,"y":0.5142},{"s":"0.800","x":440,"y":0.5180},{"s":"0.800","x":460,"y":0.5174},{"s":"0.800","x":480,"y":0.5191},{"s":"0.800","x":500,"y":0.5205},{"s":"0.800","x":520,"y":0.5134},{"s":"0.800","x":540,"y":0.5163},{"s":"0.800","x":560,"y":0.5182},{"s":"0.800","x":580,"y":0.5205},
{"s":"0.800","x":600,"y":0.5172},{"s":"0.800","x":620,"y":0.5224},{"s":"0.800","x":640,"y":0.5219},{"s":"0.800","x":660,"y":0.5116},{"s":"0.800","x":680,"y":0.5153},{"s":"0.800","x":700,"y":0.5191},{"s":"0.800","x":720,"y":0.5210},{"s":"0.800","x":740,"y":0.5182},{"s":"0.800","x":760,"y":0.5200},{"s":"0.800","x":780,"y":0.5167},
{"s":"0.800","x":800,"y":0.5125},{"s":"0.800","x":820,"y":0.5120},{"s":"0.800","x":840,"y":0.5182},{"s":"0.800","x":860,"y":0.5198},{"s":"0.800","x":880,"y":0.5163},{"s":"0.800","x":900,"y":0.5177},{"s":"0.800","x":920,"y":0.5210},{"s":"0.800","x":940,"y":0.5200},{"s":"0.800","x":960,"y":0.5210},{"s":"0.800","x":980,"y":0.5189},
{"s":"0.800","x":1000,"y":0.5142},{"s":"0.800","x":1020,"y":0.5142},{"s":"0.800","x":1040,"y":0.5193},{"s":"0.800","x":1060,"y":0.5172},{"s":"0.800","x":1080,"y":0.5163},{"s":"0.800","x":1100,"y":0.5191},{"s":"0.800","x":1120,"y":0.5170},{"s":"0.800","x":1140,"y":0.5212},{"s":"0.800","x":1160,"y":0.5170},{"s":"0.800","x":1180,"y":0.5158},
{"s":"0.800","x":1200,"y":0.5146},{"s":"0.800","x":1220,"y":0.5182},{"s":"0.800","x":1240,"y":0.5210},{"s":"0.800","x":1260,"y":0.5191},{"s":"0.800","x":1280,"y":0.5155},{"s":"0.800","x":1300,"y":0.5243},{"s":"0.800","x":1320,"y":0.5210},{"s":"0.800","x":1340,"y":0.5172},{"s":"0.800","x":1360,"y":0.5196},{"s":"0.800","x":1380,"y":0.5191},
{"s":"0.800","x":1400,"y":0.5167},{"s":"0.800","x":1420,"y":0.5196},{"s":"0.800","x":1440,"y":0.5196},{"s":"0.800","x":1460,"y":0.5210},{"s":"0.800","x":1480,"y":0.5158},{"s":"0.800","x":1500,"y":0.5210},{"s":"0.800","x":1520,"y":0.5184},{"s":"0.800","x":1540,"y":0.5227},{"s":"0.800","x":1560,"y":0.5182},{"s":"0.800","x":1580,"y":0.5170},
{"s":"0.800","x":1600,"y":0.5146},{"s":"0.800","x":1620,"y":0.5210},{"s":"0.800","x":1640,"y":0.5208},{"s":"0.800","x":1660,"y":0.5193},{"s":"0.800","x":1680,"y":0.5196},{"s":"0.800","x":1700,"y":0.5174},{"s":"0.800","x":1720,"y":0.5158},{"s":"0.800","x":1740,"y":0.5182},{"s":"0.800","x":1760,"y":0.5208},{"s":"0.800","x":1780,"y":0.5182},
{"s":"0.800","x":1800,"y":0.5144},{"s":"0.800","x":1820,"y":0.5116},{"s":"0.800","x":1840,"y":0.5153},{"s":"0.800","x":1860,"y":0.5200},{"s":"0.800","x":1880,"y":0.5158},{"s":"0.800","x":1900,"y":0.5142},{"s":"0.800","x":1920,"y":0.5139},{"s":"0.800","x":1940,"y":0.5182},{"s":"0.800","x":1960,"y":0.5172},{"s":"0.800","x":1980,"y":0.5163},{"s":"0.800","x":2000,"y":0.5139}
  ]}
}
